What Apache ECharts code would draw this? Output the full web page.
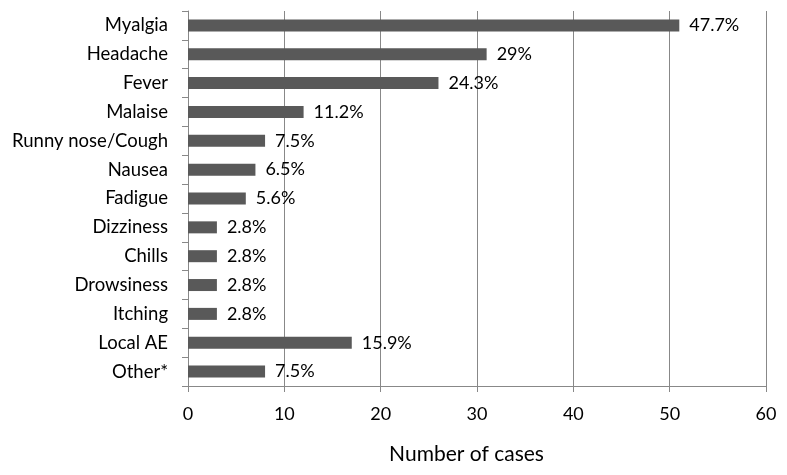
<!DOCTYPE html>
<html><head><meta charset="utf-8">
<script src="https://cdn.jsdelivr.net/npm/echarts@6/dist/echarts.min.js"></script>
<style>html,body{margin:0;padding:0;background:#fff}#c{width:787px;height:475px}</style>
</head><body><div id="c"></div>
<script>
const categories = ["Myalgia","Headache","Fever","Malaise","Runny nose/Cough","Nausea","Fadigue","Dizziness","Chills","Drowsiness","Itching","Local AE","Other*"];
const cases = [51,31,26,12,8,7,6,3,3,3,3,17,8];
const percentLabels = ["47.7%","29%","24.3%","11.2%","7.5%","6.5%","5.6%","2.8%","2.8%","2.8%","2.8%","15.9%","7.5%"];
const xTicks = [0,10,20,30,40,50,60];

const FONT = "Lato, 'Open Sans', sans-serif";
const chart = echarts.init(document.getElementById('c'));
chart.setOption({
  animation:false,
  grid:{left:188,right:21,top:11,bottom:89,containLabel:false},
  xAxis:{type:'value',min:xTicks[0],max:xTicks[xTicks.length-1],interval:10,
    name:'Number of cases',nameLocation:'middle',nameGap:58,
    nameTextStyle:{fontFamily:FONT,fontSize:21,color:'#000',padding:[0,21,0,0]},
    axisLine:{show:true,lineStyle:{color:'#888',width:1}},
    axisTick:{show:true,length:6,inside:false,lineStyle:{color:'#888'}},
    axisLabel:{fontFamily:FONT,fontSize:18,color:'#000',margin:19},
    splitLine:{show:true,lineStyle:{color:'#888',width:1}}},
  yAxis:{type:'category',data:categories,inverse:true,
    axisLine:{show:true,lineStyle:{color:'#888'}},
    axisTick:{show:true,length:6,lineStyle:{color:'#888'}},
    axisLabel:{fontFamily:FONT,fontSize:18.5,color:'#000',margin:20}},
  series:[{type:'bar',data:cases,barWidth:12,itemStyle:{color:'#595959'},
    label:{show:true,position:'right',distance:10,fontFamily:FONT,fontSize:18,color:'#000',
      formatter:p=>percentLabels[p.dataIndex]}}]
});
</script></body></html>
